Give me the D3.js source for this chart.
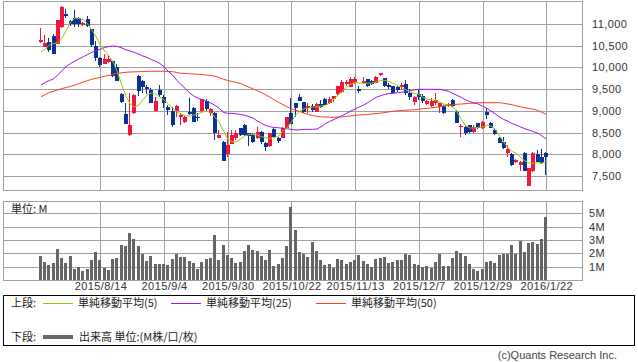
<!DOCTYPE html>
<html>
<head>
<meta charset="utf-8">
<script src="https://cdn.jsdelivr.net/npm/d3@7"></script>
<style>
  body { margin: 0; background: #fff; }
  svg { display: block; }
  .num { font-family: "Liberation Sans", Arial, sans-serif; font-size: 11px; fill: #333; }
  .jp { font-family: "Noto Sans CJK JP", sans-serif; font-size: 11px; fill: #222; }
</style>
</head>
<body>
<div id="chart"></div>
<script>
// trading days: weekdays from 2015/7/27 to 2016/1/22, minus TSE holidays
const firstDay = new Date(2015, 6, 27);
const lastDay = new Date(2016, 0, 22);
const holidays = ['2015-09-21', '2015-09-22', '2015-09-23', '2015-10-12', '2015-11-03',
  '2015-11-23', '2015-12-23', '2015-12-31', '2016-01-01', '2016-01-11'];

const dateTicks = ['2015/8/14', '2015/9/4', '2015/9/30', '2015/10/22', '2015/11/13',
  '2015/12/7', '2015/12/29', '2016/1/22'];
const priceTicks = [7500, 8000, 8500, 9000, 9500, 10000, 10500, 11000];
const volumeTicks = [1, 2, 3, 4, 5];

const opens = [10580, 10480, 10595, 10725, 10540, 10925, 11230, 11075, 11130, 11130,
  10975, 11110, 10880, 10495, 10210, 10080, 10130, 10150, 10015, 9390,
  8930, 8445, 8945, 9805, 9695, 9550, 9490, 9000, 9490, 9325,
  9080, 9000, 9005, 8865, 8745, 8980, 9060, 8865, 9000, 9235,
  8960, 8960, 8380, 8290, 8005, 8235, 8380, 8610, 8675, 8495,
  8445, 8370, 8520, 8265, 8190, 8575, 8370, 8380, 8600, 8960,
  9190, 9310, 9210, 9060, 9110, 8980, 9160, 9265, 9175, 9265,
  9390, 9440, 9620, 9555, 9650, 9505, 9635, 9725, 9695, 9650,
  9820, 9750, 9595, 9575, 9545, 9545, 9620, 9405, 9210, 9380,
  9340, 9160, 9110, 9190, 9080, 9110, 9110, 9250, 8980, 8620,
  8635, 8675, 8505, 8725, 8600, 8980, 8725, 8560, 8370, 8290,
  8030, 8005, 7820, 7755, 8030, 7270, 7615, 8005, 7940, 8040];
const highs = [10915, 10745, 10670, 10765, 11095, 11420, 11340, 11100, 11320, 11170,
  11045, 11190, 10880, 10615, 10235, 10300, 10265, 10150, 10080, 9420,
  9175, 9405, 9390, 9825, 9710, 9595, 9520, 9325, 9595, 9365,
  9135, 9095, 9135, 8945, 8905, 9290, 9080, 8945, 9270, 9265,
  9060, 8980, 8560, 8295, 8520, 8560, 8560, 8615, 8695, 8500,
  8480, 8620, 8535, 8290, 8495, 8620, 8390, 8620, 8855, 9290,
  9190, 9390, 9215, 9190, 9150, 9190, 9250, 9290, 9325, 9345,
  9575, 9710, 9710, 9775, 9775, 9575, 9775, 9730, 9710, 9805,
  9880, 9755, 9650, 9580, 9575, 9635, 9710, 9495, 9340, 9480,
  9380, 9250, 9290, 9420, 9175, 9135, 9190, 9265, 9020, 8700,
  8640, 8675, 8675, 8730, 8775, 9060, 8750, 8605, 8405, 8405,
  8215, 8030, 7900, 7845, 8050, 7690, 8055, 8100, 8120, 8060];
const lows = [10570, 10470, 10360, 10300, 10535, 10915, 11130, 10955, 10940, 10940,
  10955, 10940, 10475, 10150, 10015, 10075, 10095, 9790, 9690, 9175,
  8695, 8420, 8930, 9340, 9420, 9390, 9185, 8980, 9325, 9060,
  8905, 8635, 8865, 8675, 8730, 8905, 8735, 8775, 8980, 9005,
  8885, 8330, 8370, 7845, 7945, 8230, 8330, 8420, 8420, 8200,
  8255, 8345, 8235, 8085, 8175, 8400, 8255, 8370, 8575, 8695,
  8850, 9230, 8945, 8945, 8980, 8980, 9060, 9110, 9160, 9210,
  9365, 9420, 9575, 9545, 9620, 9420, 9620, 9555, 9595, 9635,
  9805, 9545, 9495, 9390, 9440, 9480, 9365, 9250, 9135, 9250,
  9175, 9135, 9095, 9135, 8960, 8930, 9095, 9095, 8725, 8405,
  8445, 8495, 8495, 8575, 8575, 8805, 8600, 8445, 8255, 8120,
  7940, 7725, 7800, 7620, 7610, 7265, 7600, 7820, 7770, 7525];
const closes = [10630, 10570, 10400, 10310, 11090, 11385, 11185, 11000, 11000, 10995,
  11030, 10955, 10515, 10210, 10055, 10185, 10195, 9805, 9695, 9195,
  8700, 8675, 9365, 9465, 9545, 9495, 9190, 9235, 9365, 9175,
  9020, 8675, 9110, 8905, 8865, 8930, 8750, 8830, 9265, 9035,
  9035, 8495, 8445, 7850, 8215, 8445, 8495, 8445, 8445, 8420,
  8290, 8520, 8290, 8175, 8485, 8405, 8315, 8600, 8850, 8700,
  9060, 9235, 8980, 9110, 9020, 9160, 9080, 9135, 9265, 9340,
  9575, 9670, 9670, 9725, 9725, 9465, 9690, 9575, 9620, 9785,
  9865, 9575, 9545, 9405, 9480, 9595, 9405, 9325, 9325, 9310,
  9225, 9235, 9235, 9250, 9175, 8945, 9160, 9110, 8725, 8650,
  8485, 8520, 8635, 8600, 8750, 8905, 8610, 8460, 8265, 8140,
  8120, 7745, 7870, 7830, 7625, 7685, 8030, 7830, 7790, 7930];

// moving averages
const ma5 = [10349, 10425, 10517, 10551, 10563, 10678, 10862, 11046, 11138, 11127,
  11104, 11000, 10862, 10701, 10517, 10379, 10263, 10125, 9895, 9595,
  9342, 9158, 9089, 9135, 9250, 9365, 9411, 9388, 9319, 9250,
  9158, 9066, 8974, 8928, 8882, 8882, 8905, 8928, 8974, 8990,
  8962, 8850, 8740, 8536, 8352, 8290, 8290, 8352, 8421, 8455,
  8455, 8444, 8405, 8375, 8368, 8386, 8421, 8536, 8605, 8750,
  8905, 8997, 9050, 9066, 9082, 9096, 9112, 9128, 9181, 9273,
  9365, 9457, 9542, 9619, 9653, 9642, 9635, 9635, 9642, 9665,
  9699, 9704, 9676, 9630, 9584, 9538, 9480, 9434, 9400, 9377,
  9308, 9266, 9259, 9238, 9192, 9153, 9139, 9089, 8981, 8801,
  8663, 8605, 8605, 8621, 8628, 8667, 8651, 8571, 8421, 8283,
  8145, 8064, 8022, 7926, 7845, 7799, 7792, 7806, 7792, 7845];
const ma25 = [9595, 9653, 9699, 9740, 9830, 9930, 10033, 10091, 10148, 10201,
  10247, 10298, 10349, 10390, 10420, 10459, 10482, 10494, 10482, 10452,
  10406, 10379, 10344, 10309, 10263, 10229, 10183, 10141, 10091, 10015,
  9906, 9826, 9704, 9602, 9515, 9411, 9342, 9289, 9259, 9215,
  9181, 9123, 9059, 8962, 8944, 8944, 8932, 8916, 8898, 8870,
  8829, 8766, 8709, 8663, 8633, 8617, 8610, 8598, 8587, 8573,
  8559, 8564, 8573, 8575, 8575, 8582, 8633, 8709, 8755, 8801,
  8847, 8893, 8944, 8997, 9043, 9089, 9135, 9192, 9257, 9312,
  9349, 9381, 9397, 9407, 9418, 9430, 9441, 9462, 9485, 9496,
  9496, 9496, 9496, 9496, 9496, 9473, 9453, 9400, 9358, 9308,
  9255, 9215, 9181, 9158, 9112, 9059, 8997, 8928, 8859, 8801,
  8762, 8704, 8674, 8628, 8587, 8555, 8522, 8490, 8423, 8352];
const ma50 = [9319, 9377, 9423, 9450, 9485, 9515, 9538, 9566, 9591, 9630,
  9665, 9699, 9727, 9750, 9775, 9796, 9819, 9844, 9865, 9876,
  9888, 9895, 9899, 9902, 9906, 9911, 9911, 9911, 9911, 9911,
  9906, 9902, 9883, 9865, 9860, 9853, 9849, 9842, 9833, 9826,
  9814, 9796, 9768, 9727, 9699, 9676, 9653, 9630, 9589, 9545,
  9503, 9464, 9420, 9365, 9310, 9250, 9192, 9146, 9089, 9047,
  9013, 8981, 8946, 8916, 8891, 8875, 8863, 8859, 8852, 8852,
  8859, 8863, 8875, 8884, 8893, 8905, 8909, 8916, 8928, 8939,
  8946, 8962, 8978, 8992, 9001, 9010, 9015, 9020, 9027, 9036,
  9052, 9059, 9070, 9082, 9096, 9112, 9128, 9140, 9151, 9158,
  9165, 9174, 9181, 9186, 9188, 9188, 9188, 9188, 9188, 9174,
  9158, 9140, 9116, 9093, 9070, 9054, 9036, 9013, 8967, 8921];

// volume, millions
const volumes = [1.8, 1.37, 1.12, 1.27, 2.32, 1.67, 1.27, 1.8, 0.82, 1.0,
  0.67, 0.82, 1.5, 2.07, 1.5, 0.93, 0.75, 1.57, 1.67, 2.62,
  2.55, 3.5, 3.07, 2.55, 1.92, 1.42, 1.8, 1.17, 1.2, 1.2,
  1.12, 1.57, 1.92, 1.72, 1.72, 1.42, 1.27, 0.82, 1.35, 1.57,
  1.67, 3.37, 1.5, 2.62, 1.87, 1.62, 1.27, 1.37, 2.17, 2.62,
  2.25, 2.17, 1.82, 1.5, 2.25, 1.05, 1.2, 1.65, 2.55, 5.5,
  3.75, 2.07, 1.92, 1.72, 2.85, 2.17, 1.5, 1.12, 1.2, 0.93,
  1.57, 1.5, 1.2, 1.37, 1.5, 1.87, 1.42, 1.2, 1.0, 1.57,
  1.65, 1.72, 1.27, 1.37, 1.5, 1.5, 1.92, 1.87, 1.2, 1.12,
  1.0, 1.05, 0.93, 1.32, 1.92, 1.05, 1.05, 1.65, 2.17, 2.02,
  1.8, 1.2, 0.82, 0.67, 0.82, 1.35, 1.42, 1.27, 1.87, 1.97,
  1.97, 2.62, 1.92, 2.95, 2.1, 2.8, 2.87, 2.7, 3.1, 4.75];

const W = 638, H = 362;
const left = 3, right = 583;
const upper = { top: 1, bottom: 190 };
const lower = { top: 201, bottom: 280 };
const gridColor = '#a0a0a0';
const upColor = '#f5143c', downColor = '#0a3296';

const keyFmt = d3.timeFormat('%Y-%m-%d');
const labelFmt = d3.timeFormat('%Y/%-m/%-d');
const days = d3.timeDay.range(firstDay, d3.timeDay.offset(lastDay, 1))
  .filter(d => d.getDay() % 6 !== 0 && !holidays.includes(keyFmt(d)));
const keys = days.map(labelFmt);

const x = d3.scalePoint().domain(keys).range([41, 546.2]);
const y = d3.scaleLinear().domain([7500, 11000]).range([176, 24]);
const v = d3.scaleLinear().domain([0, 5]).range([lower.bottom, 213.3]);
const px = k => Math.round(x(k));

const svg = d3.select('#chart').append('svg')
  .attr('width', W).attr('height', H)
  .attr('viewBox', [0, 0, W, H]);

// grids
const grid = svg.append('g').attr('stroke', gridColor).attr('fill', 'none').attr('shape-rendering', 'crispEdges');
[upper, lower].forEach(p => {
  grid.append('rect')
    .attr('x', left + 0.5).attr('y', p.top + 0.5)
    .attr('width', right - left - 1).attr('height', p.bottom - p.top);
  grid.selectAll(null).data(dateTicks).join('line')
    .attr('x1', d => px(d) + 0.5).attr('x2', d => px(d) + 0.5)
    .attr('y1', p.top).attr('y2', p.bottom);
});
grid.selectAll(null).data(priceTicks).join('line')
  .attr('x1', left).attr('x2', right)
  .attr('y1', d => Math.round(y(d)) + 0.5).attr('y2', d => Math.round(y(d)) + 0.5);
grid.selectAll(null).data(volumeTicks).join('line')
  .attr('x1', left).attr('x2', right)
  .attr('y1', d => Math.round(v(d)) + 0.5).attr('y2', d => Math.round(v(d)) + 0.5);

// candles
const candles = svg.append('g').attr('shape-rendering', 'crispEdges')
  .selectAll('g').data(keys).join('g')
  .attr('fill', (d, i) => closes[i] >= opens[i] ? upColor : downColor);
candles.append('rect')
  .attr('x', d => px(d) - 1).attr('width', 1)
  .attr('y', (d, i) => Math.round(y(highs[i])))
  .attr('height', (d, i) => Math.max(1, Math.round(y(lows[i])) - Math.round(y(highs[i]))));
candles.append('rect')
  .attr('x', d => px(d) - 2).attr('width', 4)
  .attr('y', (d, i) => Math.round(y(Math.max(opens[i], closes[i]))))
  .attr('height', (d, i) => Math.max(1, Math.round(y(Math.min(opens[i], closes[i]))) - Math.round(y(Math.max(opens[i], closes[i])))));

// moving averages
const line = d3.line().x((d, i) => x(keys[i])).y(d => y(d));
[[ma50, '#ff3c14'], [ma25, '#9a14f0'], [ma5, '#9ac800']].forEach(([s, c]) => {
  svg.append('path').datum(s)
    .attr('fill', 'none').attr('stroke', c).attr('stroke-width', 1)
    .attr('d', line);
});

// volume bars
svg.append('g').attr('fill', '#666').attr('shape-rendering', 'crispEdges')
  .selectAll('rect').data(volumes).join('rect')
  .attr('x', (d, i) => px(keys[i]) - 2).attr('width', 3)
  .attr('y', d => Math.round(v(d)))
  .attr('height', d => lower.bottom - Math.round(v(d)));

// axes
const priceAxis = svg.append('g').attr('transform', `translate(589,0)`)
  .call(d3.axisRight(y).tickValues(priceTicks).tickFormat(d3.format(',')).tickSize(0).tickPadding(3));
const volAxis = svg.append('g').attr('transform', `translate(586,0)`)
  .call(d3.axisRight(v).tickValues(volumeTicks).tickFormat(d => d + 'M').tickSize(0).tickPadding(3));
const dateAxis = svg.append('g').attr('transform', `translate(0,${lower.bottom})`)
  .call(d3.axisBottom(x).tickValues(dateTicks).tickSize(0).tickPadding(2));
[priceAxis, volAxis, dateAxis].forEach(g => {
  g.select('.domain').remove();
  g.selectAll('text').attr('class', 'num').attr('fill', null)
    .style('letter-spacing', '0.4px');
  g.attr('font-family', null).attr('font-size', null);
});

svg.append('text').attr('class', 'jp').attr('x', 11).attr('y', 213).text('単位: M');

// legend
const legend = svg.append('g');
legend.append('rect')
  .attr('x', 3.5).attr('y', 295.5).attr('width', 631).attr('height', 50)
  .attr('fill', 'none').attr('stroke', '#000').attr('shape-rendering', 'crispEdges');
const maItems = [
  { label: '単純移動平均(5)', color: '#9ac800', x: 43 },
  { label: '単純移動平均(25)', color: '#9a14f0', x: 171 },
  { label: '単純移動平均(50)', color: '#ff3c14', x: 316 }
];
legend.append('text').attr('class', 'jp').attr('x', 11).attr('y', 307).text('上段:');
maItems.forEach(it => {
  legend.append('line').attr('x1', it.x).attr('x2', it.x + 30)
    .attr('y1', 303.5).attr('y2', 303.5).attr('stroke', it.color);
  legend.append('text').attr('class', 'jp').attr('x', it.x + 35).attr('y', 307).text(it.label);
});
legend.append('text').attr('class', 'jp').attr('x', 11).attr('y', 340.5).text('下段:');
legend.append('line').attr('x1', 43).attr('x2', 73)
  .attr('y1', 337).attr('y2', 337).attr('stroke', '#666').attr('stroke-width', 4);
legend.append('text').attr('class', 'jp').attr('x', 79).attr('y', 340.5).text('出来高 単位:(M株/口/枚)');

svg.append('text').attr('class', 'num').attr('x', 617).attr('y', 359)
  .attr('text-anchor', 'end').style('fill', '#444').text('(c)Quants Research Inc.');
</script>
</body>
</html>
